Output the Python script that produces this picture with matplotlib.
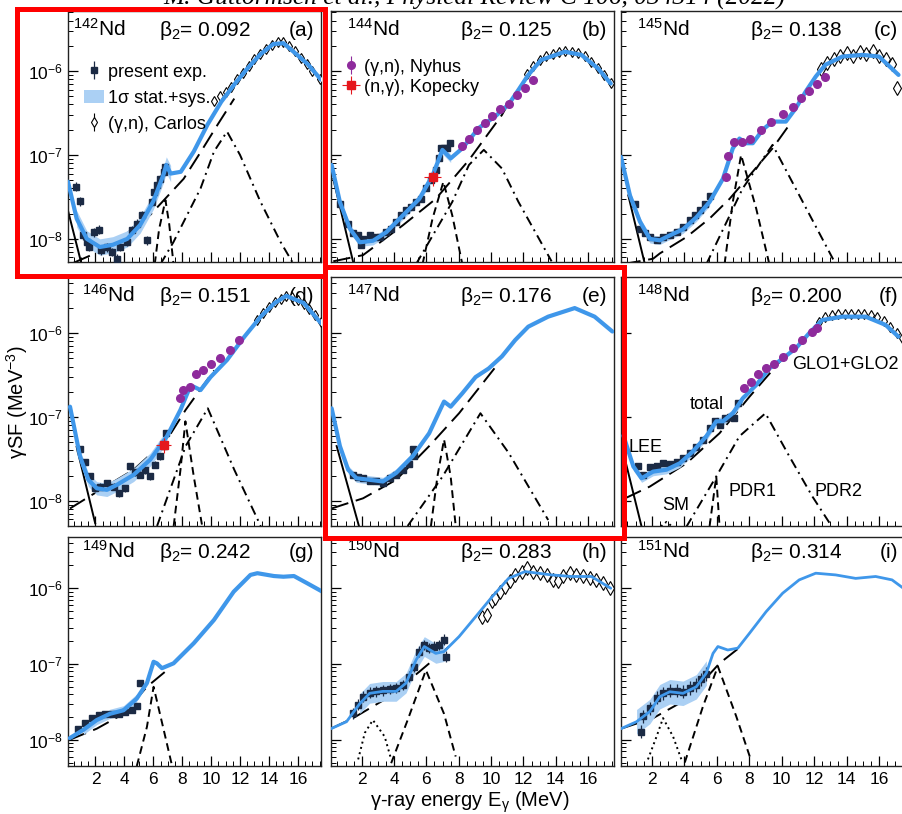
import numpy as np
import matplotlib
matplotlib.use('Agg')
import matplotlib.pyplot as plt
from matplotlib.patches import Rectangle
from matplotlib.ticker import MultipleLocator, LogLocator, NullFormatter

plt.rcParams['font.family'] = ['Liberation Sans', 'DejaVu Sans']
plt.rcParams['mathtext.fontset'] = 'custom'
plt.rcParams['mathtext.rm'] = 'Liberation Sans'
plt.rcParams['mathtext.it'] = 'Liberation Sans:italic'
plt.rcParams['mathtext.bf'] = 'Liberation Sans:bold'

# ---------------- data (E in MeV, strength in MeV^-3) ----------------
# (a) 142Nd
a_tot_E = [0.1, 0.7, 1.4, 2.3, 3.2, 4.2, 5.1, 6.0, 6.7, 6.9, 7.2, 7.9, 8.8, 9.75, 10.7, 11.6, 12.5, 13.4, 14.3, 15.0, 15.7, 16.7, 17.6]
a_tot_S = [4.8e-8, 1.74e-8, 1.0e-8, 8.0e-9, 8.5e-9, 1.0e-8, 1.47e-8, 2.8e-8, 5.8e-8, 7.6e-8, 6.0e-8, 6.3e-8, 1.1e-7, 2.3e-7, 4.3e-7, 6.9e-7, 1.07e-6, 1.58e-6, 2.1e-6, 2.15e-6, 1.7e-6, 1.2e-6, 7.9e-7]
a_exp_E = [0.66, 0.93, 1.16, 1.44, 1.58, 1.93, 2.23, 2.37, 2.79, 3.13, 3.48, 3.71, 4.18, 4.52, 4.87, 5.22, 5.57, 5.91, 6.02, 6.26, 6.49, 6.72, 6.84]
a_exp_S = [4.2e-8, 2.8e-8, 1.1e-8, 9.2e-9, 8.0e-9, 1.2e-8, 1.29e-8, 7.3e-9, 7.9e-9, 7.0e-9, 5.8e-9, 8.0e-9, 9.2e-9, 1.27e-8, 1.52e-8, 1.9e-8, 9.6e-9, 2.76e-8, 3.6e-8, 4.4e-8, 5.2e-8, 6.3e-8, 7.2e-8]
a_car_E = [10.2, 10.6, 11.0, 11.4, 11.8, 12.2, 12.6, 13.0, 13.4, 13.8, 14.2, 14.6, 15.0, 15.4, 15.8, 16.2, 16.6, 17.0, 17.5]
a_car_S = [4.4e-7, 5.0e-7, 5.6e-7, 6.5e-7, 8.0e-7, 9.6e-7, 1.15e-6, 1.38e-6, 1.6e-6, 1.85e-6, 2.05e-6, 2.2e-6, 2.2e-6, 2.0e-6, 1.72e-6, 1.45e-6, 1.22e-6, 1.0e-6, 8.0e-7]
a_lee_E, a_lee_S = [0.12, 1.05], [2.1e-8, 4.9e-9]
a_glo_E = [0.5, 3.0, 5.8, 8.1, 9.3, 10.45, 11.6]
a_glo_S = [5.2e-9, 8.0e-9, 1.94e-8, 5.2e-8, 1.1e-7, 2.3e-7, 4.7e-7]
a_pdr1_E, a_pdr1_S = [6.1, 6.4, 6.84, 7.1, 7.4], [5e-9, 1.3e-8, 2.9e-8, 1.5e-8, 5e-9]
a_pdr2_E = [6.5, 7.4, 9.27, 10.2, 11.1, 12.0, 13.4, 14.8, 15.7]
a_pdr2_S = [5e-9, 9.2e-9, 4e-8, 1.1e-7, 1.9e-7, 1.0e-7, 2.8e-8, 9.2e-9, 5e-9]

# (b) 144Nd
b_tot_E = [0.14, 0.65, 1.27, 1.88, 2.7, 3.52, 4.54, 5.56, 6.38, 6.99, 7.5, 8.22, 9.24, 10.27, 11.08, 11.7, 12.3, 13.1, 14.56, 15.58, 16.6, 17.4]
b_tot_S = [7.6e-8, 2.75e-8, 1.32e-8, 9.1e-9, 9.5e-9, 1.2e-8, 1.9e-8, 3.0e-8, 5.7e-8, 1.15e-7, 9.1e-8, 1.2e-7, 2.1e-7, 2.9e-7, 4.0e-7, 6.0e-7, 9.0e-7, 1.36e-6, 1.7e-6, 1.56e-6, 1.08e-6, 7.1e-7]
b_exp_E = [0.65, 1.16, 1.47, 1.78, 2.08, 1.98, 2.49, 2.8, 3.11, 3.52, 3.82, 4.13, 4.44, 4.74, 5.05, 5.36, 5.66, 5.97, 6.28, 6.58, 6.79, 6.89, 7.09, 7.3, 7.44]
b_exp_S = [2.6e-8, 1.5e-8, 1.16e-8, 1.1e-8, 1.0e-8, 8.4e-9, 1.1e-8, 1.05e-8, 1.05e-8, 1.2e-8, 1.3e-8, 1.6e-8, 1.9e-8, 2.2e-8, 2.4e-8, 2.76e-8, 3.0e-8, 4.0e-8, 5.0e-8, 6.6e-8, 9.1e-8, 1.2e-7, 1.2e-7, 1.2e-7, 1.38e-7]
b_nyh_E = [8.22, 8.63, 9.14, 9.65, 10.06, 10.57, 11.08, 11.59, 12.1, 12.6]
b_nyh_S = [1.29e-7, 1.57e-7, 2.0e-7, 2.4e-7, 2.9e-7, 3.5e-7, 4.1e-7, 5.2e-7, 6.3e-7, 7.9e-7]
b_kop_E, b_kop_S = [6.38], [5.4e-8]
b_car_E = [12.2, 12.6, 13.0, 13.4, 13.8, 14.2, 14.6, 15.0, 15.4, 15.8, 16.2, 16.6, 17.0, 17.4]
b_car_S = [9.3e-7, 1.15e-6, 1.35e-6, 1.5e-6, 1.6e-6, 1.68e-6, 1.72e-6, 1.7e-6, 1.62e-6, 1.5e-6, 1.3e-6, 1.1e-6, 9.0e-7, 7.2e-7]
b_lee_E, b_lee_S = [0.24, 1.47], [5.2e-8, 5.3e-9]
b_glo_E = [0.24, 2.08, 4.54, 6.58, 8.63, 10.67, 10.9]
b_glo_S = [5.4e-9, 6.4e-9, 1.45e-8, 3.0e-8, 8.7e-8, 3.0e-7, 3.6e-7]
b_pdr1_E, b_pdr1_S = [5.76, 6.38, 7.05, 7.6, 8.22], [5e-9, 1.75e-8, 4.8e-8, 1.9e-8, 5e-9]
b_pdr2_E = [5.36, 7.6, 8.63, 9.55, 10.67, 11.69, 13.74]
b_pdr2_S = [5e-9, 2.76e-8, 7.6e-8, 1.15e-7, 6.9e-8, 2.76e-8, 5.4e-9]

# (c) 145Nd
c_tot_E = [0.1, 0.65, 1.27, 1.88, 2.49, 3.11, 3.92, 4.74, 5.56, 6.38, 6.99, 7.4, 7.81, 8.22, 8.83, 9.44, 10.26, 10.87, 11.48, 12.1, 12.7, 13.74, 14.97, 16.0, 17.2]
c_tot_S = [9.5e-8, 3.3e-8, 1.6e-8, 1.0e-8, 9.6e-9, 1.1e-8, 1.3e-8, 1.8e-8, 2.76e-8, 5.2e-8, 1.2e-7, 1.57e-7, 1.38e-7, 1.38e-7, 2.0e-7, 2.5e-7, 2.5e-7, 3.6e-7, 5.7e-7, 8.6e-7, 1.19e-6, 1.49e-6, 1.56e-6, 1.49e-6, 9.0e-7]
c_exp_E = [0.96, 1.27, 1.57, 1.88, 2.29, 2.69, 3.11, 3.52, 3.92, 4.33, 4.64, 4.95, 5.25, 5.56]
c_exp_S = [2.6e-8, 1.32e-8, 1.16e-8, 1.05e-8, 9.6e-9, 1.05e-8, 1.1e-8, 1.2e-8, 1.39e-8, 1.67e-8, 1.9e-8, 2.2e-8, 2.6e-8, 3.2e-8]
c_nyh_E = [6.58, 6.68, 7.09, 7.54, 8.05, 8.73, 9.34, 10.06, 10.67, 11.18, 11.69, 12.2, 12.7]
c_nyh_S = [5.5e-8, 9.8e-8, 1.44e-7, 1.44e-7, 1.57e-7, 2.0e-7, 2.46e-7, 3.05e-7, 3.7e-7, 4.8e-7, 5.8e-7, 7.1e-7, 8.6e-7]
c_car_E = [12.4, 12.8, 13.2, 13.6, 14.0, 14.4, 14.8, 15.2, 15.6, 16.0, 16.4, 16.8, 17.1]
c_car_S = [1.05e-6, 1.25e-6, 1.38e-6, 1.5e-6, 1.62e-6, 1.52e-6, 1.7e-6, 1.58e-6, 1.72e-6, 1.5e-6, 1.4e-6, 1.2e-6, 6.3e-7]
c_lee_E, c_lee_S = [0.55, 1.57], [3.3e-8, 5e-9]
c_glo_E = [0.24, 2.08, 2.49, 4.13, 5.56, 6.79, 8.02, 9.44, 10.55]
c_glo_S = [5e-9, 5.8e-9, 6.7e-9, 1.05e-8, 1.75e-8, 3.0e-8, 5.7e-8, 1.2e-7, 2.4e-7]
c_pdr1_E, c_pdr1_S = [6.48, 6.99, 7.5, 8.43, 9.24], [5e-9, 2.76e-8, 1.0e-7, 2.3e-8, 5e-9]
c_pdr2_E, c_pdr2_S = [5.36, 7.6, 9.44, 11.3, 13.33], [5e-9, 4.0e-8, 1.32e-7, 2.76e-8, 5e-9]

# (d) 146Nd
d_tot_E = [0.24, 0.93, 1.51, 2.09, 2.79, 3.48, 4.64, 5.79, 6.95, 7.88, 8.45, 8.8, 9.27, 9.96, 11.1, 12.3, 13.43, 14.4, 15.2, 16.4, 17.6]
d_tot_S = [1.33e-7, 3.4e-8, 1.78e-8, 1.41e-8, 1.35e-8, 1.55e-8, 2.04e-8, 3.1e-8, 5.9e-8, 1.22e-7, 2.1e-7, 2.3e-7, 2.1e-7, 3.0e-7, 4.8e-7, 9.1e-7, 1.58e-6, 2.3e-6, 2.8e-6, 2.3e-6, 1.32e-6]
d_exp_E = [0.93, 1.28, 1.63, 1.98, 2.32, 2.79, 3.25, 3.6, 4.06, 4.41, 4.75, 5.1, 5.45, 5.79, 6.14, 6.44, 6.72, 6.89]
d_exp_S = [4.1e-8, 2.9e-8, 1.95e-8, 1.41e-8, 1.48e-8, 1.62e-8, 1.48e-8, 1.23e-8, 1.41e-8, 2.6e-8, 2.2e-8, 2.04e-8, 2.3e-8, 1.95e-8, 2.7e-8, 3.4e-8, 4.5e-8, 6.4e-8]
d_nyh_E = [7.88, 8.06, 8.52, 8.92, 9.45, 10.0, 10.6, 11.3, 11.93]
d_nyh_S = [1.67e-7, 2.1e-7, 2.3e-7, 3.3e-7, 3.6e-7, 4.3e-7, 5.1e-7, 6.4e-7, 8.3e-7]
d_kop_E, d_kop_S = [6.72], [4.7e-8]
d_car_E = [13.2, 13.6, 14.0, 14.4, 14.8, 15.2, 15.6, 16.0, 16.4, 16.8, 17.2, 17.6]
d_car_S = [1.45e-6, 1.75e-6, 2.05e-6, 2.35e-6, 2.6e-6, 2.75e-6, 2.7e-6, 2.5e-6, 2.25e-6, 1.95e-6, 1.65e-6, 1.35e-6]
d_lee_E, d_lee_S = [0.7, 1.98], [4.4e-8, 5.4e-9]
d_glo_E = [0.24, 2.32, 4.64, 6.95, 8.24, 10.2]
d_glo_S = [8.1e-9, 1.35e-8, 2.35e-8, 5.4e-8, 1.22e-7, 3.6e-7]
d_pdr1_E, d_pdr1_S = [7.41, 7.88, 8.22, 8.8, 9.38], [5e-9, 2.35e-8, 8.9e-8, 1.95e-8, 5e-9]
d_pdr2_E, d_pdr2_S = [6.26, 8.24, 9.77, 11.6, 13.43], [5e-9, 4.5e-8, 1.27e-7, 2.35e-8, 5e-9]

# (e) 147Nd
e_tot_E = [0.14, 0.65, 1.16, 1.67, 2.49, 3.31, 4.13, 5.15, 6.17, 6.89, 7.09, 7.5, 8.22, 9.04, 9.85, 10.67, 11.49, 12.3, 13.53, 15.17, 16.4, 17.5]
e_tot_S = [1.27e-7, 4.5e-8, 2.35e-8, 1.86e-8, 1.78e-8, 1.7e-8, 2.15e-8, 3.4e-8, 6.4e-8, 1.27e-7, 1.53e-7, 1.33e-7, 1.92e-7, 3.0e-7, 3.8e-7, 5.3e-7, 8.3e-7, 1.2e-6, 1.58e-6, 2.0e-6, 1.58e-6, 1.05e-6]
e_exp_E = [1.47, 1.78, 2.08, 2.49, 2.9, 3.31, 3.72, 4.13, 4.54, 4.95, 5.25, 5.19]
e_exp_S = [2.04e-8, 1.9e-8, 1.86e-8, 1.74e-8, 1.7e-8, 1.65e-8, 1.86e-8, 2.04e-8, 2.35e-8, 2.75e-8, 3.4e-8, 4.2e-8]
e_lee_E, e_lee_S = [0.45, 1.84], [4.5e-8, 4.9e-9]
e_glo_E = [0.14, 2.08, 4.13, 6.17, 8.02, 10.46]
e_glo_S = [8.1e-9, 1.07e-8, 1.78e-8, 4.5e-8, 1.11e-7, 4.4e-7]
e_pdr1_E, e_pdr1_S = [6.28, 6.68, 7.09, 7.5, 7.81], [5e-9, 1.95e-8, 5.4e-8, 1.95e-8, 5e-9]
e_pdr2_E, e_pdr2_S = [4.84, 7.0, 9.34, 11.1, 13.53], [5e-9, 1.95e-8, 1.11e-7, 3.7e-8, 5.9e-9]

# (f) 148Nd
f_tot_E = [0.25, 0.86, 1.37, 2.08, 2.9, 3.72, 4.54, 5.36, 5.97, 6.38, 6.99, 7.6, 8.42, 9.24, 10.06, 10.87, 11.69, 12.5, 13.74, 15.17, 16.4, 17.2]
f_tot_S = [6.0e-8, 2.57e-8, 1.86e-8, 2.23e-8, 2.35e-8, 2.8e-8, 3.9e-8, 5.9e-8, 8.9e-8, 8.9e-8, 1.11e-7, 1.67e-7, 2.4e-7, 3.8e-7, 5.0e-7, 6.6e-7, 1.0e-6, 1.44e-6, 1.58e-6, 1.58e-6, 1.26e-6, 9.1e-7]
f_exp_E = [1.16, 1.47, 1.88, 2.29, 2.69, 3.11, 3.52, 3.92, 4.33, 4.74, 5.15, 5.56, 5.87, 6.17, 6.48, 6.79, 7.09, 7.3]
f_exp_S = [2.57e-8, 2.04e-8, 2.5e-8, 2.57e-8, 2.8e-8, 2.75e-8, 2.9e-8, 3.2e-8, 3.7e-8, 4.4e-8, 5.3e-8, 7.4e-8, 8.9e-8, 8.1e-8, 9.8e-8, 1.01e-7, 9.8e-8, 1.46e-7]
f_nyh_E = [7.71, 8.12, 8.53, 9.04, 9.55, 10.06, 10.67, 11.28, 11.9, 12.2]
f_nyh_S = [2.2e-7, 2.64e-7, 3.3e-7, 3.9e-7, 4.3e-7, 5.2e-7, 6.6e-7, 8.3e-7, 1.05e-6, 1.15e-6]
f_car_E = [12.3, 12.7, 13.1, 13.5, 13.9, 14.3, 14.7, 15.1, 15.5, 15.9, 16.3, 16.7, 17.1, 17.4]
f_car_S = [1.35e-6, 1.55e-6, 1.65e-6, 1.68e-6, 1.7e-6, 1.72e-6, 1.72e-6, 1.7e-6, 1.66e-6, 1.55e-6, 1.4e-6, 1.2e-6, 1.0e-6, 8.8e-7]
f_lee_E, f_lee_S = [0.35, 1.37], [3.1e-8, 4.9e-9]
f_glo_E = [0.35, 1.88, 4.13, 6.17, 8.02, 10.06]
f_glo_S = [1.07e-8, 1.48e-8, 2.8e-8, 6.4e-8, 1.75e-7, 5.0e-7]
f_pdr1_E, f_pdr1_S = [5.56, 5.97, 6.17], [5e-9, 1.95e-8, 5e-9]
f_pdr2_E = [4.13, 5.97, 7.4, 9.0, 10.47, 11.9, 13.1]
f_pdr2_S = [4.9e-9, 1.95e-8, 5.9e-8, 1.11e-7, 3.4e-8, 1.12e-8, 4.9e-9]
f_sm_E, f_sm_S = [2.3, 2.9, 3.5], [4.5e-9, 5.6e-9, 4.5e-9]

# (g) 149Nd
g_tot_E = [0.22, 1.16, 2.09, 3.0, 3.94, 4.86, 5.56, 6.02, 6.25, 6.6, 7.4, 8.8, 10.19, 11.56, 12.27, 12.72, 13.2, 14.34, 15.0, 15.73, 16.66, 17.7]
g_tot_S = [1.05e-8, 1.35e-8, 1.82e-8, 2.2e-8, 2.45e-8, 3.5e-8, 5.6e-8, 1.07e-7, 1.02e-7, 8.8e-8, 1.02e-7, 1.88e-7, 3.8e-7, 9.0e-7, 1.23e-6, 1.5e-6, 1.58e-6, 1.45e-6, 1.42e-6, 1.45e-6, 1.16e-6, 9.0e-7]
g_exp_E = [0.82, 1.28, 1.75, 2.21, 2.67, 3.13, 3.6, 4.06, 4.52, 4.86, 5.1]
g_exp_S = [1.4e-8, 1.65e-8, 1.93e-8, 2.12e-8, 2.2e-8, 2.2e-8, 2.2e-8, 2.3e-8, 2.5e-8, 2.75e-8, 5.6e-8]
g_glo_E, g_glo_S = [0.22, 2.09, 3.94, 5.56, 6.95], [1.0e-8, 1.4e-8, 2.2e-8, 5.0e-8, 8.3e-8]
g_pdr1_E, g_pdr1_S = [4.86, 5.56, 6.02, 6.72, 7.3], [4.5e-9, 1.48e-8, 5.0e-8, 1.35e-8, 4.5e-9]

# (h) 150Nd
h_tot_E = [0.1, 1.06, 1.88, 2.49, 3.31, 4.13, 4.74, 5.36, 5.87, 6.58, 7.09, 8.02, 9.04, 10.06, 11.08, 12.1, 13.74, 14.97, 16.2, 17.4]
h_tot_S = [1.4e-8, 1.73e-8, 3.0e-8, 4.1e-8, 4.35e-8, 4.35e-8, 5.6e-8, 1.13e-7, 1.7e-7, 1.38e-7, 1.46e-7, 2.3e-7, 4.2e-7, 7.7e-7, 1.35e-6, 1.66e-6, 1.5e-6, 1.43e-6, 1.43e-6, 1.0e-6]
h_exp_E = [1.47, 1.78, 2.08, 2.49, 2.9, 3.31, 3.72, 4.13, 4.54, 4.95, 5.25, 5.56, 5.87, 6.17, 6.48, 6.79, 7.09, 7.2]
h_exp_S = [2.24e-8, 2.9e-8, 3.7e-8, 4.2e-8, 4.35e-8, 4.5e-8, 4.7e-8, 4.8e-8, 5.3e-8, 6.8e-8, 9.2e-8, 1.46e-7, 1.79e-7, 1.62e-7, 1.7e-7, 1.79e-7, 2.1e-7, 1.25e-7]
h_car_E = [9.44, 9.75, 10.06, 10.27, 10.57, 10.88, 11.19, 11.49, 11.9, 12.2, 12.6, 13.0, 13.43, 13.84, 14.15, 14.46, 14.87, 15.27, 15.68, 16.1, 16.5, 16.9, 17.33]
h_car_S = [4.2e-7, 4.4e-7, 6.7e-7, 7.4e-7, 9.0e-7, 1.05e-6, 1.23e-6, 1.5e-6, 1.66e-6, 1.84e-6, 1.66e-6, 1.58e-6, 1.5e-6, 1.29e-6, 1.23e-6, 1.43e-6, 1.61e-6, 1.5e-6, 1.43e-6, 1.35e-6, 1.29e-6, 1.16e-6, 1.0e-6]
h_glo_E, h_glo_S = [0.1, 1.47, 3.52, 5.56, 7.4], [1.4e-8, 1.93e-8, 3.5e-8, 7.9e-8, 1.7e-7]
h_sm_E, h_sm_S = [1.78, 2.19, 2.69, 3.42, 3.82], [5.5e-9, 1.23e-8, 1.82e-8, 1.1e-8, 5.5e-9]
h_pdr1_E, h_pdr1_S = [3.82, 4.84, 5.97, 7.09, 7.81], [4.9e-9, 1.82e-8, 8.3e-8, 2.2e-8, 6e-9]

# (i) 151Nd
i_tot_E = [0.1, 1.06, 1.88, 2.49, 3.11, 3.92, 4.74, 5.36, 5.77, 6.07, 6.68, 7.3, 8.02, 9.04, 10.06, 11.08, 12.1, 13.33, 14.56, 15.79, 16.8, 17.5]
i_tot_S = [1.4e-8, 1.73e-8, 2.36e-8, 3.7e-8, 4.3e-8, 4.1e-8, 5.0e-8, 7.6e-8, 1.38e-7, 1.7e-7, 1.53e-7, 1.62e-7, 2.55e-7, 4.9e-7, 8.6e-7, 1.29e-6, 1.58e-6, 1.5e-6, 1.35e-6, 1.43e-6, 1.29e-6, 1.0e-6]
i_exp_E = [1.31, 1.47, 1.88, 2.29, 2.69, 3.11, 3.52, 3.92, 4.33, 4.74, 5.05, 5.31]
i_exp_S = [1.28e-8, 2.04e-8, 2.6e-8, 3.6e-8, 4.1e-8, 4.45e-8, 4.45e-8, 4.3e-8, 4.8e-8, 5.3e-8, 6.3e-8, 7.4e-8]
i_glo_E, i_glo_S = [0.1, 2.08, 4.13, 6.17, 7.6], [1.4e-8, 1.93e-8, 3.4e-8, 1.02e-7, 1.78e-7]
i_sm_E, i_sm_S = [1.76, 2.29, 2.69, 3.31, 3.82], [5.5e-9, 1.1e-8, 1.93e-8, 1.1e-8, 5.5e-9]
i_pdr1_E, i_pdr1_S = [4.03, 5.15, 6.07, 7.2, 8.12], [5e-9, 2.75e-8, 9.3e-8, 2.04e-8, 5.3e-9]

isotopes = ['142', '144', '145', '146', '147', '148', '149', '150', '151']
betas = ['0.092', '0.125', '0.138', '0.151', '0.176', '0.200', '0.242', '0.283', '0.314']
tags = ['(a)', '(b)', '(c)', '(d)', '(e)', '(f)', '(g)', '(h)', '(i)']
band_err = [0.25, 0.12, 0.12, 0.2, 0.12, 0.12, 0.15, 0.35, 0.45]

panels = [
    dict(tot=(a_tot_E, a_tot_S), exp=(a_exp_E, a_exp_S), car=(a_car_E, a_car_S),
         lee=(a_lee_E, a_lee_S), glo=(a_glo_E, a_glo_S), pdr1=(a_pdr1_E, a_pdr1_S), pdr2=(a_pdr2_E, a_pdr2_S)),
    dict(tot=(b_tot_E, b_tot_S), exp=(b_exp_E, b_exp_S), car=(b_car_E, b_car_S), nyh=(b_nyh_E, b_nyh_S),
         kop=(b_kop_E, b_kop_S), lee=(b_lee_E, b_lee_S), glo=(b_glo_E, b_glo_S), pdr1=(b_pdr1_E, b_pdr1_S),
         pdr2=(b_pdr2_E, b_pdr2_S)),
    dict(tot=(c_tot_E, c_tot_S), exp=(c_exp_E, c_exp_S), car=(c_car_E, c_car_S), nyh=(c_nyh_E, c_nyh_S),
         lee=(c_lee_E, c_lee_S), glo=(c_glo_E, c_glo_S), pdr1=(c_pdr1_E, c_pdr1_S), pdr2=(c_pdr2_E, c_pdr2_S)),
    dict(tot=(d_tot_E, d_tot_S), exp=(d_exp_E, d_exp_S), car=(d_car_E, d_car_S), nyh=(d_nyh_E, d_nyh_S),
         kop=(d_kop_E, d_kop_S), lee=(d_lee_E, d_lee_S), glo=(d_glo_E, d_glo_S), pdr1=(d_pdr1_E, d_pdr1_S),
         pdr2=(d_pdr2_E, d_pdr2_S)),
    dict(tot=(e_tot_E, e_tot_S), exp=(e_exp_E, e_exp_S),
         lee=(e_lee_E, e_lee_S), glo=(e_glo_E, e_glo_S), pdr1=(e_pdr1_E, e_pdr1_S), pdr2=(e_pdr2_E, e_pdr2_S)),
    dict(tot=(f_tot_E, f_tot_S), exp=(f_exp_E, f_exp_S), car=(f_car_E, f_car_S), nyh=(f_nyh_E, f_nyh_S),
         lee=(f_lee_E, f_lee_S), glo=(f_glo_E, f_glo_S), pdr1=(f_pdr1_E, f_pdr1_S), pdr2=(f_pdr2_E, f_pdr2_S),
         sm=(f_sm_E, f_sm_S)),
    dict(tot=(g_tot_E, g_tot_S), exp=(g_exp_E, g_exp_S), glo=(g_glo_E, g_glo_S), pdr1=(g_pdr1_E, g_pdr1_S)),
    dict(tot=(h_tot_E, h_tot_S), exp=(h_exp_E, h_exp_S), car=(h_car_E, h_car_S),
         glo=(h_glo_E, h_glo_S), pdr1=(h_pdr1_E, h_pdr1_S), sm=(h_sm_E, h_sm_S)),
    dict(tot=(i_tot_E, i_tot_S), exp=(i_exp_E, i_exp_S),
         glo=(i_glo_E, i_glo_S), pdr1=(i_pdr1_E, i_pdr1_S), sm=(i_sm_E, i_sm_S)),
]

# ---------------- layout (pixels of the 902x814 canvas) ----------------
W, H = 902, 814
cols = [(68, 321), (331, 614), (621, 905)]
rows = [(11, 262), (277, 526), (537, 766)]
ylims = [(5.3e-9, 5.2e-6), (5.0e-9, 4.7e-6), (4.5e-9, 4.75e-6)]

BLUE = '#3f97ea'
BAND = '#abd0f4'
DARK = '#1b2a44'
PURPLE = '#8e2b9c'
RED = '#e5161c'

fig = plt.figure(figsize=(W / 100, H / 100), dpi=100)

styles = dict(lee='-', glo=(0, (9, 4)), pdr1=(0, (4, 2.5)), pdr2=(0, (5, 2.5, 1, 2.5)), sm=(0, (1, 1.8)))

axes = []
for k, p in enumerate(panels):
    r, c = divmod(k, 3)
    x0, x1 = cols[c]
    y0, y1 = rows[r]
    ax = fig.add_axes([x0 / W, 1 - y1 / H, (x1 - x0) / W, (y1 - y0) / H])
    axes.append(ax)
    ax.set_yscale('log')
    ax.set_xlim(0.1, 17.6)
    ax.set_ylim(*ylims[r])

    # model components
    for key in ['lee', 'glo', 'pdr1', 'pdr2', 'sm']:
        if key in p:
            ax.plot(p[key][0], p[key][1], color='k', lw=1.4, ls=styles[key], zorder=2)

    tE = np.array(p['tot'][0])
    tS = np.array(p['tot'][1])
    eE = np.array(p['exp'][0])
    eS = np.array(p['exp'][1])
    err = band_err[k]

    # 1 sigma band around the total over the measured range
    m = (tE >= eE.min() - 0.4) & (tE <= eE.max() + 0.4)
    hb = ax.fill_between(tE[m], tS[m] / (1 + err), tS[m] * (1 + err), color=BAND, lw=0, zorder=3)

    hc = None
    if 'car' in p:
        ms = 7 if k in (2, 7) else 5
        hc = ax.errorbar(p['car'][0], p['car'][1], yerr=np.array(p['car'][1]) * 0.04, fmt='d',
                         ms=ms, mfc='white', mec='k', mew=0.8, ecolor='k', elinewidth=0.8,
                         capsize=0, zorder=3.5)

    he = ax.errorbar(eE, eS, yerr=[eS - eS / (1 + 0.5 * err), eS * 0.5 * err], fmt='s', ms=3.8,
                     color=DARK, ecolor=DARK, elinewidth=0.9, capsize=0, zorder=4)

    lw_tot = 2.0 if k in (7, 8) else 3.0
    ax.plot(tE, tS, color=BLUE, lw=lw_tot, zorder=5, solid_capstyle='round', solid_joinstyle='round')

    hn = hk = None
    if 'nyh' in p:
        hn = ax.errorbar(p['nyh'][0], p['nyh'][1], yerr=np.array(p['nyh'][1]) * 0.05, fmt='o', ms=5.5,
                         color=PURPLE, ecolor=PURPLE, elinewidth=0.8, capsize=0, zorder=6)
    if 'kop' in p:
        hk = ax.errorbar(p['kop'][0], p['kop'][1], xerr=0.5, yerr=np.array(p['kop'][1]) * 0.2, fmt='s',
                         ms=5.5, color=RED, ecolor=RED, elinewidth=0.8, capsize=0, zorder=6)

    # panel titles
    hpx = y1 - y0
    ty = 1 - 25 / hpx if r < 2 else 1 - 21 / hpx
    ax.text(0.02 if k == 0 else 0.055, ty, '$^{%s}$Nd' % isotopes[k], transform=ax.transAxes,
            fontsize=15, va='baseline', ha='left')
    ax.text(0.36 if c == 0 else 0.455, ty, 'β$_2$= %s' % betas[k], transform=ax.transAxes,
            fontsize=15, va='baseline', ha='left')
    ax.text(0.975, ty, tags[k], transform=ax.transAxes, fontsize=15, va='baseline', ha='right')

    if k == 0:
        ax.legend([he, hb, hc], ['present exp.', '1σ stat.+sys.', '(γ,n), Carlos'], loc='upper left',
                  bbox_to_anchor=(0.065, 0.79), frameon=False, fontsize=13, borderpad=0, borderaxespad=0,
                  handlelength=1.1, handletextpad=0.2, labelspacing=0.5)
    if k == 1:
        ax.legend([hn, hk], ['(γ,n), Nyhus', '(n,γ), Kopecky'], loc='upper left',
                  bbox_to_anchor=(0.045, 0.81), frameon=False, fontsize=13, borderpad=0, borderaxespad=0,
                  handlelength=0.8, handletextpad=0.3, labelspacing=0.17)

    # ticks
    ax.xaxis.set_major_locator(MultipleLocator(2))
    ax.xaxis.set_minor_locator(MultipleLocator(0.5))
    ax.yaxis.set_major_locator(LogLocator(base=10, numticks=12))
    ax.yaxis.set_minor_locator(LogLocator(base=10, subs=np.arange(2, 10), numticks=12))
    ax.yaxis.set_minor_formatter(NullFormatter())
    ax.tick_params(which='both', direction='in', top=False, right=False, labelsize=12.5, pad=4)
    ax.tick_params(which='major', length=7, width=0.9)
    ax.tick_params(which='minor', length=3.5, width=0.7)
    if r < 2:
        ax.tick_params(labelbottom=False)
    if c > 0:
        ax.tick_params(labelleft=False)
    for s in ax.spines.values():
        s.set_linewidth(1.0)
        s.set_color('#222222')

# labels in panel (f)
axf = axes[5]
for txt, xf, yf in [('GLO1+GLO2', 0.602, 0.647), ('total', 0.243, 0.486), ('LEE', 0.025, 0.317),
                    ('SM', 0.144, 0.084), ('PDR1', 0.377, 0.137), ('PDR2', 0.683, 0.137)]:
    axf.text(xf, yf, txt, transform=axf.transAxes, fontsize=13, ha='left', va='center', zorder=8)

fig.text(17 / W, 1 - 402 / H, 'γSF (MeV$^{-3}$)', rotation=90, ha='center', va='center', fontsize=14.5)
fig.text(470 / W, 1 - 802 / H, 'γ-ray energy E$_\\mathrm{γ}$ (MeV)', ha='center', va='center', fontsize=14.5)
# citation line, cut by the top edge as in the reference
fig.text(474 / W, 1 - 5 / H, 'M. Guttormsen et al., Physical Review C 106, 034314 (2022)', ha='center',
         va='baseline', fontsize=18.3, family='Liberation Serif', style='italic')

# red highlight boxes
for (bx0, by0, bx1, by1) in [(17, 9, 325, 276), (325, 267, 624, 538)]:
    fig.add_artist(Rectangle((bx0 / W, 1 - by1 / H), (bx1 - bx0) / W, (by1 - by0) / H,
                             transform=fig.transFigure, fill=False, ec='#ff0000', lw=3.6, zorder=20))

fig.savefig('out.png', dpi=100)
